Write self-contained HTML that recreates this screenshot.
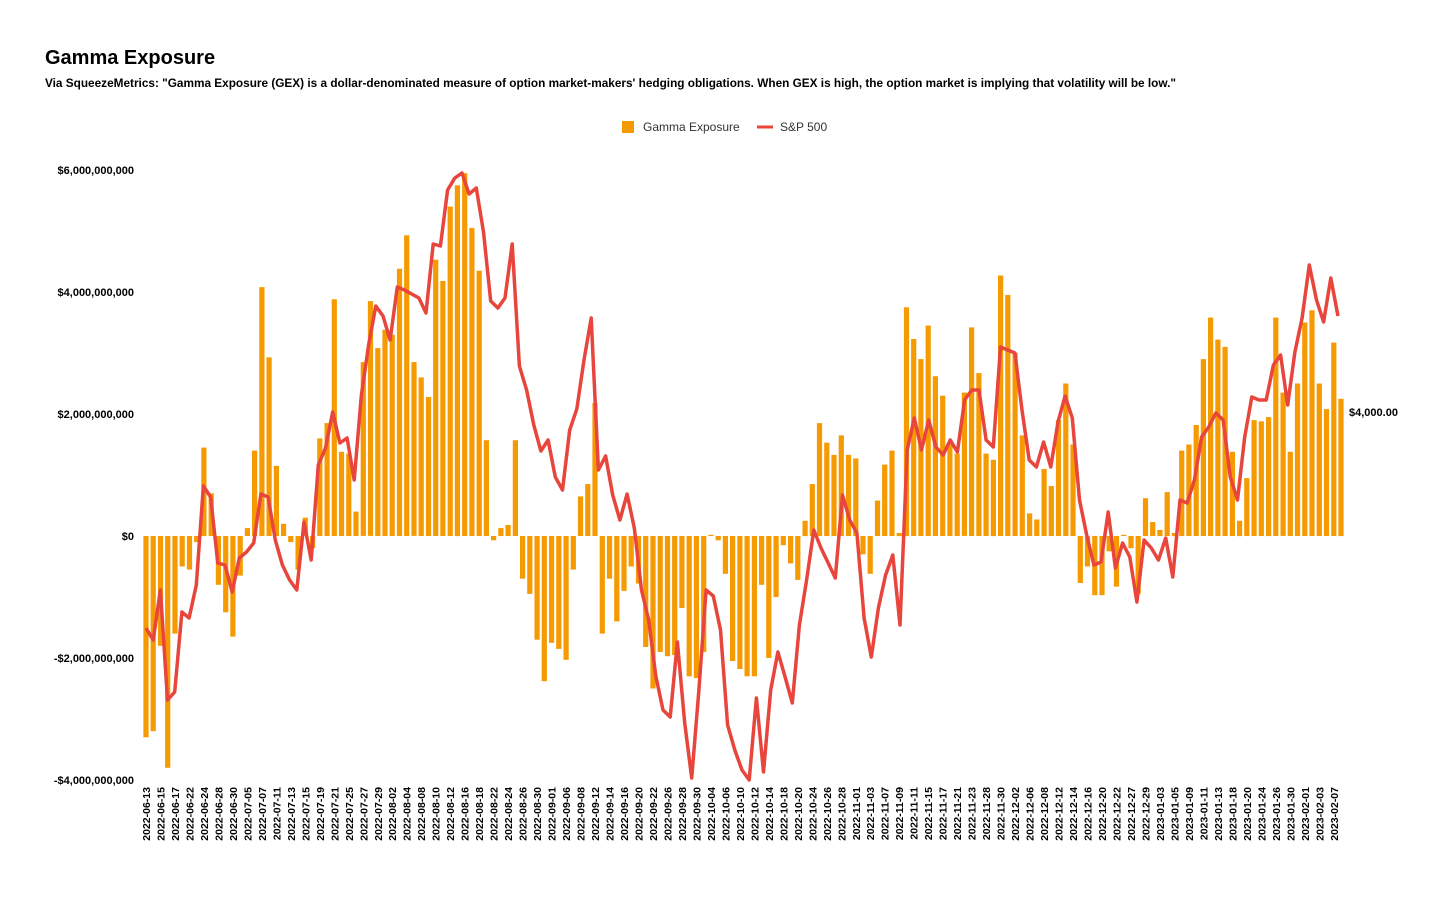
<!DOCTYPE html>
<html><head><meta charset="utf-8"><style>
body{margin:0;background:#fff;font-family:"Liberation Sans",Arial,sans-serif;}
svg text{font-family:"Liberation Sans",Arial,sans-serif;}
</style></head><body>
<svg id="c" width="1449" height="896" xmlns="http://www.w3.org/2000/svg">
<rect width="1449" height="896" fill="#fff"/>
<text x="45" y="64" font-size="20" font-weight="bold" fill="#000">Gamma Exposure</text>
<text x="45" y="87" font-size="11.8" font-weight="bold" fill="#000">Via SqueezeMetrics: "Gamma Exposure (GEX) is a dollar-denominated measure of option market-makers' hedging obligations. When GEX is high, the option market is implying that volatility will be low."</text>
<rect x="622" y="121" width="12" height="12" fill="#f59a00"/>
<text x="643" y="131" font-size="12" fill="#333">Gamma Exposure</text>
<line x1="757" y1="127" x2="773" y2="127" stroke="#e8453c" stroke-width="3"/>
<text x="780" y="131" font-size="12" fill="#333">S&amp;P 500</text>
<g font-size="11" font-weight="bold" fill="#000" text-anchor="end">
<text x="134" y="174">$6,000,000,000</text>
<text x="134" y="296">$4,000,000,000</text>
<text x="134" y="418">$2,000,000,000</text>
<text x="134" y="540">$0</text>
<text x="134" y="662">-$2,000,000,000</text>
<text x="134" y="784">-$4,000,000,000</text>
</g>
<text x="1349" y="416" font-size="11" font-weight="bold" fill="#000">$4,000.00</text>
<g id="bars" fill="#f59a00"></g>
<g id="lbl" font-size="10.5" font-weight="bold" fill="#000"></g>
<polyline id="sp" fill="none" stroke="#e8453c" stroke-width="3.5" stroke-linejoin="round"/>
</svg>
<script>
var v=[-3.3,-3.2,-1.8,-3.8,-1.6,-0.5,-0.55,-0.1,1.45,0.7,-0.8,-1.25,-1.65,-0.65,0.13,1.4,4.08,2.93,1.15,0.2,-0.1,-0.55,0.3,-0.2,1.6,1.85,3.88,1.38,1.35,0.4,2.85,3.85,3.08,3.38,3.3,4.38,4.93,2.85,2.6,2.28,4.53,4.18,5.4,5.75,5.95,5.05,4.35,1.57,-0.07,0.13,0.18,1.57,-0.7,-0.95,-1.7,-2.38,-1.75,-1.85,-2.03,-0.55,0.65,0.85,2.18,-1.6,-0.7,-1.4,-0.9,-0.5,-0.78,-1.82,-2.5,-1.9,-1.97,-1.95,-1.18,-2.3,-2.33,-1.9,0.02,-0.07,-0.62,-2.05,-2.18,-2.3,-2.3,-0.8,-2.0,-1.0,-0.15,-0.45,-0.72,0.25,0.85,1.85,1.53,1.33,1.65,1.33,1.27,-0.3,-0.62,0.58,1.17,1.4,0.05,3.75,3.23,2.9,3.45,2.62,2.3,1.5,1.35,2.35,3.42,2.67,1.35,1.25,4.27,3.95,3.0,1.65,0.37,0.27,1.1,0.82,1.9,2.5,1.5,-0.77,-0.5,-0.97,-0.97,-0.25,-0.83,0.02,-0.2,-0.95,0.62,0.23,0.1,0.72,0.05,1.4,1.5,1.82,2.9,3.58,3.22,3.1,1.38,0.25,0.95,1.9,1.88,1.95,3.58,2.35,1.38,2.5,3.5,3.7,2.5,2.08,3.17,2.25];
var y=[628,640,590,700,692,612,618,585,486,497,563,565,592,558,552,543,494,497,540,565,580,590,522,560,465,448,412,443,438,480,395,345,306,316,340,287,290,294,298,313,244,246,190,178,173,194,188,232,301,308,298,244,366,390,425,451,440,477,490,430,409,360,318,470,456,495,520,494,528,590,620,676,710,717,642,722,778,690,590,596,630,725,750,770,780,698,772,690,652,677,703,625,580,530,548,563,578,495,520,533,618,657,608,575,555,625,450,418,450,420,447,455,440,452,400,390,390,440,447,347,350,353,410,460,467,442,467,422,396,418,500,535,565,562,512,568,543,557,602,540,548,560,538,577,500,503,480,437,427,413,420,477,500,437,397,400,400,365,355,405,352,318,265,300,322,278,316];
var lab="2022-06-13,2022-06-15,2022-06-17,2022-06-22,2022-06-24,2022-06-28,2022-06-30,2022-07-05,2022-07-07,2022-07-11,2022-07-13,2022-07-15,2022-07-19,2022-07-21,2022-07-25,2022-07-27,2022-07-29,2022-08-02,2022-08-04,2022-08-08,2022-08-10,2022-08-12,2022-08-16,2022-08-18,2022-08-22,2022-08-24,2022-08-26,2022-08-30,2022-09-01,2022-09-06,2022-09-08,2022-09-12,2022-09-14,2022-09-16,2022-09-20,2022-09-22,2022-09-26,2022-09-28,2022-09-30,2022-10-04,2022-10-06,2022-10-10,2022-10-12,2022-10-14,2022-10-18,2022-10-20,2022-10-24,2022-10-26,2022-10-28,2022-11-01,2022-11-03,2022-11-07,2022-11-09,2022-11-11,2022-11-15,2022-11-17,2022-11-21,2022-11-23,2022-11-28,2022-11-30,2022-12-02,2022-12-06,2022-12-08,2022-12-12,2022-12-14,2022-12-16,2022-12-20,2022-12-22,2022-12-27,2022-12-29,2023-01-03,2023-01-05,2023-01-09,2023-01-11,2023-01-13,2023-01-18,2023-01-20,2023-01-24,2023-01-26,2023-01-30,2023-02-01,2023-02-03,2023-02-07".split(",");
var n=v.length,x0=146,dx=(1341-146)/(n-1);
var g=document.getElementById("bars"),s="",pts=[];
for(var i=0;i<n;i++){var x=x0+dx*i,h=v[i]*61;
 s+='<rect x="'+(x-2.6).toFixed(1)+'" y="'+(h>0?536-h:536).toFixed(1)+'" width="5.2" height="'+Math.abs(h).toFixed(1)+'"/>';}
g.innerHTML=s;
var m=y.length;for(var i=0;i<m;i++){pts.push((x0+(1338-146)/(m-1)*i).toFixed(1)+","+y[i]);}
document.getElementById("sp").setAttribute("points",pts.join(" "));
var L="";for(var j=0;j<lab.length;j++){var x=x0+dx*2*j+4;
 L+='<text transform="translate('+x.toFixed(1)+',787) rotate(-90)" text-anchor="end">'+lab[j]+'</text>';}
document.getElementById("lbl").innerHTML=L;
</script>
</body></html>
